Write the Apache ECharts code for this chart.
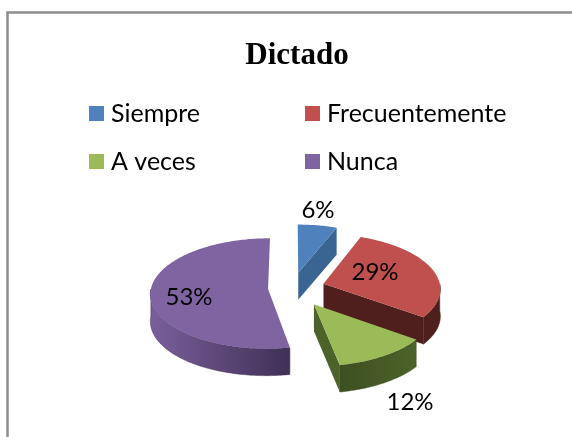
<!DOCTYPE html>
<html><head><meta charset="utf-8">
<style>html,body{margin:0;padding:0;background:#fff}#c{width:572px;height:437px}</style>
<script src="https://cdn.jsdelivr.net/npm/echarts@6/dist/echarts.min.js"></script>
</head><body><div id="c"></div>
<script>
// Data
var categories = ['Siempre', 'Frecuentemente', 'A veces', 'Nunca'];
var percents = [6, 29, 12, 53];
var legendLeft = ['Siempre', 'A veces'];
var legendRight = ['Frecuentemente', 'Nunca'];

// Style
var topColors = ['#4f81bd', '#c0504d', '#9bbb59', '#8064a2'];
var sideFrom = ['#3a6491', '#4e1f1c', '#4d6229', '#7a5f9b'];
var sideTo = ['#3a6491', '#4e1f1c', '#3e4f22', '#3f3055'];
var faceColors = ['#3a6491', '#4e1f1c', '#4d6229', '#6f5790'];
var explode = [34, 33, 40, 24];
var labelAt = [[318, 210], [375, 272], [410, 402], [189, 297]];

// Projection of the tilted disc
var CX = 292, CY = 288, RX = 117, RY = 55, DEPTH = 27, PERSP = 0.08, START = 0;
var total = percents.reduce(function (a, b) { return a + b; }, 0);

function project(X, Y, drop) {
  var s = 1 + PERSP * Y;
  return [CX + RX * X * s, CY + RY * Y * s + (drop ? DEPTH : 0)];
}
function sliceAngles(i) {
  var before = 0;
  for (var k = 0; k < i; k++) before += percents[k];
  return [START + before / total * 360, START + (before + percents[i]) / total * 360];
}
function renderSlice(i) {
  var a = sliceAngles(i), mid = (a[0] + a[1]) / 2 * Math.PI / 180;
  var ox = explode[i] / RX * Math.sin(mid), oy = -explode[i] / RX * Math.cos(mid);
  function rim(deg, drop) {
    var t = deg * Math.PI / 180;
    return project(ox + Math.sin(t), oy - Math.cos(t), drop);
  }
  var apex = project(ox, oy, false), apexLow = project(ox, oy, true);
  var topPts = [apex], d;
  for (d = a[0]; d < a[1]; d += 1) topPts.push(rim(d, false));
  topPts.push(rim(a[1], false));

  var children = [];
  // radial face that turns toward the viewer
  if (Math.sin(a[1] * Math.PI / 180) > 0.001) {
    children.push({ type: 'polygon', shape: { points: [apex, rim(a[1], false), rim(a[1], true), apexLow] },
      style: { fill: faceColors[i] } });
  }
  // front rim
  var from = Math.max(a[0], 90), to = Math.min(a[1], 270), upper = [], lower = [];
  if (to > from) {
    for (d = from; d < to; d += 1) { upper.push(rim(d, false)); lower.unshift(rim(d, true)); }
    upper.push(rim(to, false)); lower.unshift(rim(to, true));
    var rimFill = { type: 'linear', x: 0, y: 0, x2: 1, y2: 0, colorStops: i === 3
      ? [{ offset: 0, color: sideFrom[i] }, { offset: 1, color: sideTo[i] }]
      : [{ offset: 0, color: sideTo[i] }, { offset: 1, color: sideFrom[i] }] };
    children.push({ type: 'polygon', shape: { points: upper.concat(lower) },
      style: { fill: rimFill, stroke: sideTo[i], lineWidth: 0.5 } });
  }
  children.push({ type: 'polygon', shape: { points: topPts }, style: { fill: topColors[i] } });
  children.push({ type: 'text', style: { text: percents[i] + '%', x: labelAt[i][0], y: labelAt[i][1],
    align: 'center', verticalAlign: 'middle', fill: '#000', font: '24px Lato' }, z2: 10 });
  return { type: 'group', children: children };
}

var series = categories.map(function (name, i) {
  return {
    name: name, type: 'custom', coordinateSystem: 'none',
    itemStyle: { color: topColors[i] },
    data: [percents[i]],
    renderItem: function () { return renderSlice(i); },
    silent: true, animation: false
  };
});
function legend(left, names) {
  return { left: left, top: 101, orient: 'vertical', data: names, itemWidth: 15, itemHeight: 15, itemGap: 23,
    icon: 'rect', selectedMode: false, padding: 0,
    textStyle: { fontFamily: 'Lato', fontSize: 25, color: '#000', padding: [0, 0, 0, 2] } };
}
var chart = echarts.init(document.getElementById('c'), null, { renderer: 'canvas' });
chart.setOption({
  animation: false,
  backgroundColor: '#fff',
  title: { text: 'Dictado', left: 297, top: 40, textAlign: 'center', padding: 0,
    textStyle: { fontFamily: 'Liberation Serif', fontWeight: 'bold', fontSize: 31, color: '#000' } },
  legend: [legend(89, legendLeft), legend(305, legendRight)],
  graphic: [{ type: 'rect', silent: true, z: -1,
    shape: { x: 7.5, y: 12.5, width: 600, height: 500 },
    style: { fill: 'none', stroke: '#8c8c8c', lineWidth: 2.5 } }],
  series: series
});
</script></body></html>
